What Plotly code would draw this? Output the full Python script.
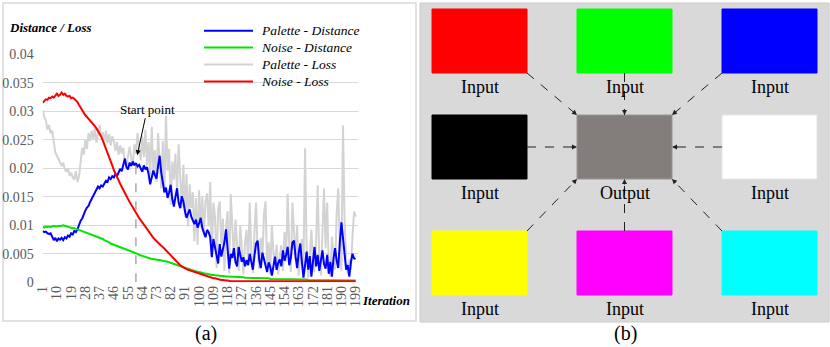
import numpy as np
import plotly.graph_objects as go

W, H = 830, 347

iterations = list(range(1, 200))
x_tick_vals = list(range(1, 200, 9))
y_tick_vals = [0, 0.005, 0.01, 0.015, 0.02, 0.025, 0.03, 0.035, 0.04]
y_tick_text = ["0", "0.005", "0.01", "0.015", "0.02", "0.025", "0.03", "0.035", "0.04"]

# values, in units of 1e-4
palette_distance = [
    90, 88, 89, 86, 85, 86, 80, 74, 78, 72,
    77, 75, 78, 74, 79, 77, 82, 80, 86, 84,
    90, 88, 93, 102, 108, 112, 120, 126, 131, 134,
    141, 146, 151, 157, 162, 168, 165, 170, 168, 174,
    178, 176, 184, 181, 186, 184, 190, 186, 194, 199,
    195, 208, 217, 202, 198, 210, 204, 212, 205, 209,
    203, 206, 199, 194, 205, 198, 202, 190, 172, 183,
    196, 188, 182, 204, 222, 193, 175, 158, 166, 148,
    158, 171, 146, 133, 150, 165, 140, 130, 151, 142,
    125, 113, 121, 128, 115, 108, 102, 110, 96, 104,
    113, 95, 87, 79, 92, 88, 79, 44, 76, 63,
    52, 33, 67, 45, 58, 71, 93, 52, 24, 50,
    43, 60, 35, 28, 62, 48, 36, 44, 28, 39,
    30, 50, 38, 22, 47, 68, 73, 40, 25, 52,
    41, 30, 18, 35, 27, 12, 30, 45, 22, 34,
    40, 28, 56, 38, 48, 62, 30, 43, 70, 73,
    45, 25, 52, 68, 35, 8, 30, 54, 22, 46,
    10, 38, 62, 28, 48, 20, 40, 56, 32, 24,
    48, 15, 36, 10, 42, 60, 38, 25, 70, 105,
    78, 46, 22, 30, 10, 35, 50, 42, 41,
]
noise_distance = [
    97, 96, 98, 97, 98, 97, 98, 99, 98, 98,
    99, 98, 99, 100, 99, 98, 98, 97, 96, 95,
    95, 94, 93, 92, 91, 90, 89, 88, 87, 86,
    85, 84, 83, 82, 81, 79, 78, 77, 76, 74,
    73, 71, 70, 68, 67, 65, 64, 63, 62, 61,
    60, 59, 58, 57, 56, 55, 54, 53, 52, 51,
    50, 48, 47, 46, 45, 44, 43, 42, 42, 41,
    41, 40, 40, 39, 39, 38, 38, 37, 37, 36,
    36, 35, 34, 33, 32, 31, 30, 29, 28, 27,
    26, 25, 24, 23, 22, 21, 20, 19, 18, 18,
    17, 16, 16, 15, 15, 14, 14, 13, 13, 12,
    12, 12, 11, 11, 11, 10, 10, 10, 10, 10,
    9, 9, 9, 9, 9, 9, 9, 9, 8, 8,
    8, 8, 8, 8, 8, 8, 7, 7, 7, 7,
    7, 7, 7, 7, 6, 6, 6, 6, 6, 6,
    6, 6, 6, 5, 5, 5, 5, 5, 5, 5,
    5, 5, 5, 5, 5, 5, 5, 5, 4, 4,
    4, 4, 4, 4, 4, 4, 4, 4, 4, 4,
    4, 4, 4, 4, 4, 3, 3, 3, 3, 3,
    3, 3, 3, 3, 3, 3, 3, 3, 3,
]
palette_loss = [
    302, 290, 284, 268, 276, 262, 266, 246, 228, 222,
    216, 212, 204, 210, 198, 194, 200, 187, 192, 184,
    180, 195, 176, 186, 212, 236, 224, 250, 234, 262,
    248, 266, 251, 270, 245, 260, 276, 254, 263, 247,
    266, 244, 260, 240, 256, 248, 230, 246, 224, 240,
    226, 236, 210, 204, 222, 238, 218, 206, 242, 226,
    262, 240, 214, 256, 220, 268, 205, 246, 186, 273,
    194, 232, 176, 262, 210, 165, 248, 156, 292, 196,
    234, 136, 212, 180, 226, 155, 242, 170, 130, 206,
    115, 190, 98, 172, 130, 158, 72, 148, 66, 162,
    96, 150, 82, 142, 156, 98, 176, 46, 140, 116,
    25, 128, 142, 66, 112, 20, 96, 125, 15, 155,
    85, 40, 110, 62, 20, 100, 58, 14, 68, 92,
    30, 140, 48, 16, 88, 140, 52, 24, 78, 38,
    120, 142, 26, 70, 14, 100, 52, 30, 66, 14,
    44, 65, 20, 88, 36, 155, 62, 18, 140, 84,
    40, 100, 12, 56, 76, 24, 235, 60, 8, 48,
    92, 30, 18, 70, 170, 40, 12, 86, 165, 60,
    140, 28, 10, 80, 46, 22, 120, 165, 60, 20,
    275, 110, 38, 14, 40, 22, 80, 124, 115,
]
noise_loss = [
    315, 319, 321, 320, 324, 323, 326, 324, 328, 331,
    327, 329, 333, 329, 331, 327, 326, 327, 323, 324,
    322, 319, 316, 311, 306, 302, 297, 293, 290, 287,
    284, 280, 277, 274, 270, 266, 262, 256, 249, 242,
    236, 229, 221, 213, 205, 197, 190, 184, 179, 173,
    167, 162, 157, 151, 146, 141, 136, 131, 126, 122,
    118, 113, 109, 105, 101, 96, 93, 89, 86, 82,
    78, 75, 72, 69, 67, 64, 62, 59, 57, 54,
    51, 48, 45, 42, 39, 36, 33, 30, 28, 26,
    25, 23, 22, 21, 20, 19, 18, 17, 16, 15,
    14, 13, 12, 11, 10, 10, 9, 8, 7, 7,
    6, 5, 5, 4, 4, 3, 3, 3, 2, 2,
    2, 2, 2, 2, 2, 1, 2, 2, 2, 2,
    2, 2, 1, 2, 2, 2, 2, 2, 2, 2,
    2, 2, 2, 2, 1, 2, 2, 2, 2, 2,
    2, 2, 2, 2, 2, 2, 2, 1, 2, 2,
    2, 2, 2, 2, 2, 2, 2, 2, 2, 2,
    2, 1, 2, 2, 2, 2, 2, 2, 2, 2,
    2, 2, 2, 2, 2, 2, 2, 2, 2, 2,
    2, 2, 2, 2, 2, 2, 2, 2, 2,
]

# name, values, colour  (drawing order; legend order is set below)
series = [
    ("Palette - Loss", palette_loss, "#d3d3d3"),
    ("Palette - Distance", palette_distance, "#0000ff"),
    ("Noise - Distance", noise_distance, "#00e600"),
    ("Noise - Loss", noise_loss, "#ff0000"),
]
legend_order = ["Palette - Distance", "Noise - Distance", "Palette - Loss", "Noise - Loss"]

start_iter = 60

# panel (b): colour swatches on a 3x3 grid, centre one is the output
swatch_colors = [
    ["#ff0000", "#00ff00", "#0000ff"],
    ["#000000", "#837e7b", "#ffffff"],
    ["#ffff00", "#ff00ff", "#00ffff"],
]
swatch_labels = [
    ["Input", "Input", "Input"],
    ["Input", "Output", "Input"],
    ["Input", "Input", "Input"],
]

SERIF = "Liberation Serif, Times New Roman, serif"


def px(x):
    return x / W


def py(y):
    return 1 - y / H


def label(x, y, text, size, color="black", xanchor="center"):
    fig.add_annotation(x=px(x), y=py(y), xref="paper", yref="paper",
                       xanchor=xanchor, yanchor="middle", showarrow=False,
                       text=text, font=dict(family=SERIF, size=size, color=color))


fig = go.Figure()
for name, vals, color in series:
    fig.add_trace(go.Scatter(
        x=iterations, y=np.array(vals) / 1e4, name=name, mode="lines",
        line=dict(color=color, width=2), showlegend=False,
    ))

tick_font = dict(family=SERIF, size=14, color="#595959")
fig.update_layout(
    width=W, height=H,
    margin=dict(l=0, r=0, t=0, b=0),
    paper_bgcolor="white", plot_bgcolor="white",
    font=dict(family=SERIF, color="#595959"),
    xaxis=dict(
        domain=[px(42.7), px(358)], range=[1, 200.5],
        tickvals=x_tick_vals, tickangle=-90, showgrid=False, zeroline=False,
        showline=False, ticks="", tickfont=tick_font,
        automargin=False, fixedrange=True,
    ),
    yaxis=dict(
        domain=[py(282.3), py(54.3)], range=[0, 0.04],
        tickvals=y_tick_vals, ticktext=y_tick_text,
        showgrid=True, gridcolor="#d9d9d9", gridwidth=1, zeroline=False,
        showline=False, ticks="", ticklabelstandoff=8, tickfont=tick_font,
        automargin=False, fixedrange=True,
    ),
)

# legend, drawn by hand so the row spacing matches
colors = {name: color for name, _, color in series}
for i, name in enumerate(legend_order):
    row = 30.7 + i * 16.9
    fig.add_shape(type="line", xref="paper", yref="paper",
                  x0=px(204), x1=px(253), y0=py(row), y1=py(row),
                  line=dict(color=colors[name], width=2))
    label(259, row, f"<i>{name}</i>", 13.5, xanchor="left")

# frame around panel (a)
fig.add_shape(type="rect", xref="paper", yref="paper",
              x0=px(3), x1=px(416), y0=py(321), y1=py(3),
              line=dict(color="#d9d9d9", width=1.5), layer="below")

# start point marker
fig.add_shape(type="line", xref="x", yref="y",
              x0=start_iter, x1=start_iter, y0=0, y1=0.0205,
              line=dict(color="#7f7f7f", width=1, dash="dash"))
fig.add_annotation(x=start_iter + 0.8, y=0.0223, xref="x", yref="y",
                   text="Start point", ax=10, ay=-46,
                   showarrow=True, arrowhead=2, arrowsize=1, arrowwidth=1,
                   arrowcolor="black", font=dict(family=SERIF, size=13, color="black"))

label(7, 27, "<b><i>Distance / Loss</i></b>", 13, xanchor="left")
label(360, 300, "<b><i>Iteration</i></b>", 13, xanchor="left")
label(206, 333, "(a)", 20)

# panel (b)
fig.add_shape(type="rect", xref="paper", yref="paper",
              x0=px(420), x1=px(829), y0=py(322), y1=py(3),
              fillcolor="#d9d9d9", line=dict(color="#cacaca", width=1), layer="below")

col_x = [432, 577, 722]
row_y = [9, 115, 231]
sw_w, sw_h = 95, 64
for r in range(3):
    for c in range(3):
        x0, y0 = col_x[c], row_y[r]
        fill = swatch_colors[r][c]
        if (r, c) == (1, 1):
            edge = "#9a9694"
        elif fill == "#ffffff":
            edge = "#e6e6e6"
        else:
            edge = fill
        fig.add_shape(type="rect", xref="paper", yref="paper",
                      x0=px(x0), x1=px(x0 + sw_w), y0=py(y0 + sw_h), y1=py(y0),
                      fillcolor=fill, line=dict(color=edge, width=1))
        label(x0 + sw_w / 2, y0 + sw_h + 14, swatch_labels[r][c], 18)

# dashed arrows from each input towards the output
out_x0, out_y0 = col_x[1], row_y[1]
out_x1, out_y1 = out_x0 + sw_w, out_y0 + sw_h
out_cx, out_cy = (out_x0 + out_x1) / 2, (out_y0 + out_y1) / 2
links = [
    ((col_x[0] + sw_w, row_y[0] + sw_h), (out_x0, out_y0)),
    ((col_x[1] + sw_w / 2, row_y[0] + sw_h), (out_cx, out_y0)),
    ((col_x[2], row_y[0] + sw_h), (out_x1, out_y0)),
    ((col_x[0] + sw_w, row_y[1] + sw_h / 2), (out_x0, out_cy)),
    ((col_x[2], row_y[1] + sw_h / 2), (out_x1, out_cy)),
    ((col_x[0] + sw_w, row_y[2]), (out_x0, out_y1)),
    ((col_x[1] + sw_w / 2, row_y[2]), (out_cx, out_y1)),
    ((col_x[2], row_y[2]), (out_x1, out_y1)),
]
for (sx, sy), (ex, ey) in links:
    fig.add_shape(type="line", xref="paper", yref="paper",
                  x0=px(sx), y0=py(sy), x1=px(ex), y1=py(ey),
                  line=dict(color="#222222", width=1, dash="dash"))
    L = np.hypot(ex - sx, ey - sy)
    ux, uy = (ex - sx) / L, (ey - sy) / L
    fig.add_annotation(x=px(ex), y=py(ey), xref="paper", yref="paper", text="",
                       showarrow=True, ax=-ux * 7, ay=-uy * 7,
                       arrowhead=2, arrowsize=1, arrowwidth=1, arrowcolor="#222222")

label(625, 333, "(b)", 20)

# drop the default page margin so the figure sits at the window's corner
fig.write_html("out.html", config={"displayModeBar": False},
               post_script="document.body.style.margin = '0';")
